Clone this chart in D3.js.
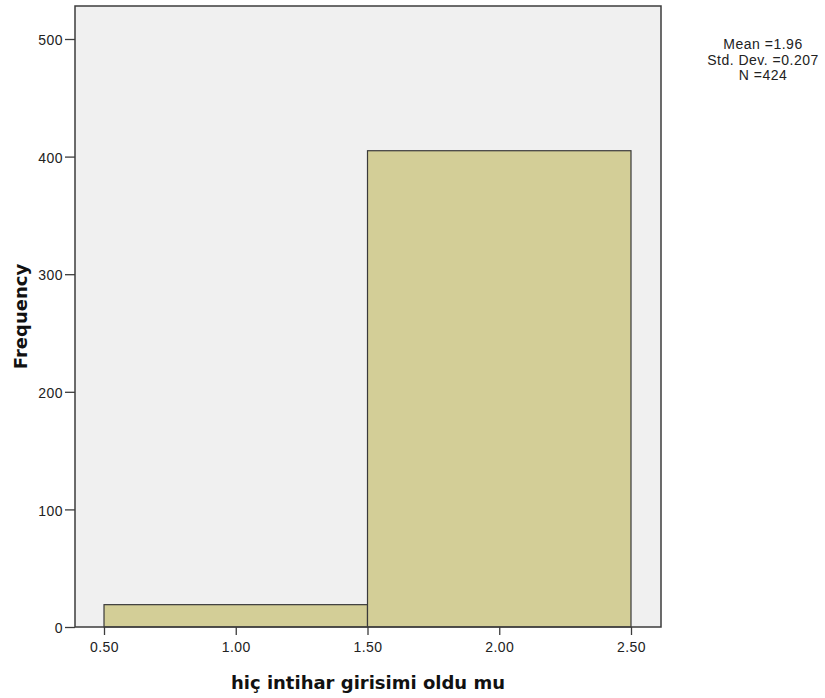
<!DOCTYPE html>
<html><head><meta charset="utf-8">
<script src="https://cdn.jsdelivr.net/npm/d3@7"></script>
<style>body{margin:0;background:#fff}svg{display:block}text{font-family:"Liberation Sans",Arial,sans-serif}</style>
</head><body>
<script>
const binStarts = [0.5, 1.5];
const binEnds = [1.5, 2.5];
const frequencies = [19, 405];
const xTicks = [0.5, 1.0, 1.5, 2.0, 2.5];
const yTicks = [0, 100, 200, 300, 400, 500];
const statsLines = ["Mean =1.96", "Std. Dev. =0.207", "N =424"];
const xTitle = "hiç intihar girisimi oldu mu";
const yTitle = "Frequency";

const W = 825, H = 698;
const L = 75, R = 661, T = 6, B = 627;
const svg = d3.select("body").append("svg").attr("width", W).attr("height", H);

const x = d3.scaleLinear().domain([0.5, 2.5]).range([104, 631]);
const y = d3.scaleLinear().domain([0, 500]).range([B, 39]);

svg.append("rect").attr("x", L).attr("y", T).attr("width", R - L).attr("height", B - T)
  .attr("fill", "#f0f0f0");

svg.selectAll("rect.bar").data(frequencies).enter().append("rect").attr("class", "bar")
  .attr("x", (d, i) => x(binStarts[i]))
  .attr("width", (d, i) => x(binEnds[i]) - x(binStarts[i]))
  .attr("y", d => y(d))
  .attr("height", d => B - y(d))
  .attr("fill", "#d3ce97").attr("stroke", "#3a3a3a").attr("stroke-width", 1.2);

svg.append("rect").attr("x", L).attr("y", T).attr("width", R - L).attr("height", B - T)
  .attr("fill", "none").attr("stroke", "#3c3c3c").attr("stroke-width", 1.5);

const xAxis = svg.append("g").attr("transform", `translate(0,${B})`)
  .call(d3.axisBottom(x).tickValues(xTicks).tickFormat(d3.format(".2f")).tickSize(8).tickPadding(7));
xAxis.select(".domain").remove();
xAxis.selectAll("line").attr("stroke", "#3c3c3c").attr("stroke-width", 1.3);
xAxis.selectAll("text").attr("font-size", 14).attr("letter-spacing", 0.5).attr("fill", "#222");

const yAxis = svg.append("g").attr("transform", `translate(${L},0)`)
  .call(d3.axisLeft(y).tickValues(yTicks).tickFormat(d3.format("d")).tickSize(10).tickPadding(2));
yAxis.select(".domain").remove();
yAxis.selectAll("line").attr("stroke", "#3c3c3c").attr("stroke-width", 1.3);
yAxis.selectAll("text").attr("font-size", 14).attr("letter-spacing", 0.5).attr("fill", "#222").attr("dy", "0.4em");

svg.append("text").attr("x", (L + R) / 2).attr("y", 689).attr("text-anchor", "middle")
  .style("font-family", "'DejaVu Sans', sans-serif")
  .attr("font-size", 18).attr("font-weight", "bold").attr("fill", "#111").text(xTitle);

svg.append("text").attr("transform", `translate(27,${(T + B) / 2}) rotate(-90)`)
  .style("font-family", "'DejaVu Sans', sans-serif")
  .attr("text-anchor", "middle").attr("font-size", 18).attr("font-weight", "bold").attr("fill", "#111").text(yTitle);

svg.selectAll("text.stat").data(statsLines).enter().append("text").attr("class", "stat")
  .attr("x", 763).attr("y", (d, i) => 49 + i * 15.5).attr("text-anchor", "middle")
  .attr("font-size", 14).attr("letter-spacing", 0.5).attr("fill", "#222").text(d => d);
</script>
</body></html>
